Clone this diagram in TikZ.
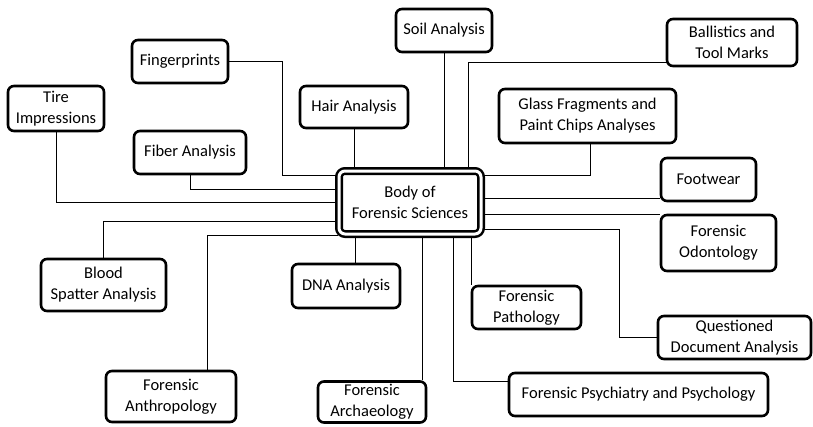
\documentclass[tikz,border=0pt]{standalone}
\usepackage{fontspec}
\setmainfont{Carlito}
\usetikzlibrary{backgrounds}

\begin{document}
\begin{tikzpicture}[x=1pt, y=-1pt,
  box/.style={draw, line width=2.6pt, rounded corners=6pt, fill=white, align=center,
    inner sep=0pt, text=black, font=\fontsize{16.5}{21}\selectfont},
  link/.style={line width=2.2pt}]
\useasboundingbox (0,0) rectangle (813,426);

\node[box, line width=2.5pt, double, double distance=3pt, minimum width=142pt, minimum height=63pt] (body) at (410,202.5) {Body of\\Forensic Sciences};

\node[box, minimum width=96pt, minimum height=43pt] (soil) at (444,30.5) {Soil Analysis};
\node[box, minimum width=96pt, minimum height=43pt] (fing) at (180,61.5) {Fingerprints};
\node[box, minimum width=130pt, minimum height=47pt] (ball) at (732,42.5) {Ballistics and\\Tool Marks};
\node[box, minimum width=96pt, minimum height=45pt] (tire) at (56,108.5) {Tire\\Impressions};
\node[box, minimum width=108pt, minimum height=42pt] (hair) at (354,107) {Hair Analysis};
\node[box, minimum width=177pt, minimum height=54pt] (glass) at (587.5,116) {Glass Fragments and\\Paint Chips Analyses};
\node[box, minimum width=112pt, minimum height=43pt] (fiber) at (190,152.5) {Fiber Analysis};
\node[box, minimum width=95pt, minimum height=43pt] (foot) at (708.5,179.5) {Footwear};
\node[box, minimum width=115pt, minimum height=56pt] (odon) at (718.5,243) {Forensic\\Odontology};
\node[box, minimum width=125pt, minimum height=52pt] (blood) at (103.5,285) {Blood\\Spatter Analysis};
\node[box, minimum width=108pt, minimum height=44pt] (dna) at (346,286) {DNA Analysis};
\node[box, minimum width=109pt, minimum height=43pt] (patho) at (526.5,307.5) {Forensic\\Pathology};
\node[box, minimum width=153pt, minimum height=43pt] (qda) at (734.5,337.5) {Questioned\\Document Analysis};
\node[box, minimum width=130pt, minimum height=51pt] (anth) at (171,396.5) {Forensic\\Anthropology};
\node[box, minimum width=108pt, minimum height=41pt] (arch) at (372,402) {Forensic\\Archaeology};
\node[box, minimum width=259pt, minimum height=43pt] (psych) at (638.5,394.5) {Forensic Psychiatry and Psychology};

\begin{scope}[on background layer, link]
\draw (fing.east) -| (282,175) -- (body.west |- 0,175);
\draw (fiber.south) |- (body.west |- 0,189);
\draw (tire.south) |- (body.west |- 0,202);
\draw (blood.north) |- (body.west |- 0,221);
\draw (anth.north -| 207,0) |- (body.west |- 0,235);
\draw (hair.south) -- (body.north -| hair.south);
\draw (soil.south) -- (body.north -| soil.south);
\draw (body.north -| 468,0) |- (ball.west |- 0,62);
\draw (glass.south -| 590,0) |- (body.east |- 0,175);
\draw (foot.west |- 0,198) -- (body.east |- 0,198);
\draw (odon.north west) -- (body.east |- odon.north west);
\draw (qda.west) -| (619,229) -- (body.east |- 0,229);
\draw (dna.north -| 355,0) -- (body.south -| 355,0);
\draw (arch.north -| 422,0) -- (body.south -| 422,0);
\draw (psych.west |- 0,381) -| (body.south -| 453,0);
\draw (patho.north west) -- (body.south -| patho.north west);
\end{scope}
\end{tikzpicture}
\end{document}
